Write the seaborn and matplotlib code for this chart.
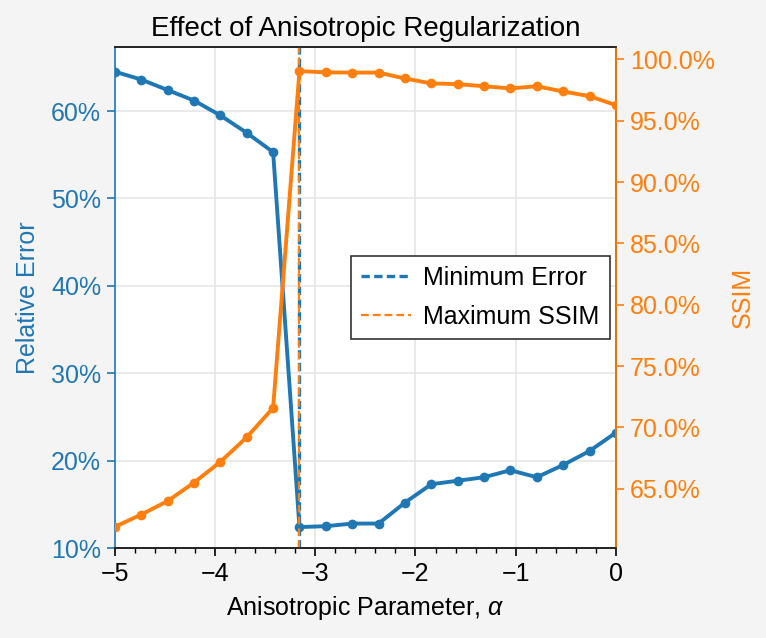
import numpy as np
import pandas as pd
import matplotlib
matplotlib.use('Agg')
import matplotlib.pyplot as plt
import seaborn as sns
from matplotlib.ticker import PercentFormatter, MultipleLocator

# anisotropic parameter grid
alpha = [-5.000, -4.737, -4.474, -4.211, -3.947, -3.684, -3.421, -3.158, -2.895, -2.632,
         -2.368, -2.105, -1.842, -1.579, -1.316, -1.053, -0.789, -0.526, -0.263, 0.000]
# relative error (%)
rel_error = [64.5, 63.6, 62.4, 61.2, 59.5, 57.5, 55.3, 12.4, 12.5, 12.8,
             12.8, 15.2, 17.3, 17.7, 18.1, 18.9, 18.1, 19.5, 21.1, 23.2]
# SSIM (%)
ssim = [61.9, 62.9, 64.0, 65.5, 67.2, 69.2, 71.6, 99.05, 98.95, 98.93,
        98.93, 98.45, 98.05, 97.99, 97.82, 97.64, 97.82, 97.39, 97.01, 96.28]

df = pd.DataFrame({'alpha': alpha, 'err': rel_error, 'ssim': ssim})
best_err = df.loc[df['err'].idxmin(), 'alpha']
best_ssim = df.loc[df['ssim'].idxmax(), 'alpha']

blue = '#1f77b4'
orange = '#ff7f0e'

sns.set_theme(style='ticks')
plt.rcParams['font.family'] = ['Liberation Sans', 'DejaVu Sans']
plt.rcParams.update({
    'font.size': 9,
    'axes.labelsize': 9,
    'axes.titlesize': 10,
    'xtick.labelsize': 9,
    'ytick.labelsize': 9,
    'legend.fontsize': 9,
    'text.color': 'black',
    'axes.labelcolor': 'black',
    'xtick.color': 'black',
    'ytick.color': 'black',
    'figure.facecolor': '#f4f4f4',
    'axes.facecolor': 'white',
    'axes.linewidth': 0.6,
    'mathtext.fontset': 'custom',
    'mathtext.rm': 'Liberation Sans',
    'mathtext.it': 'Liberation Sans:italic',
})

fig = plt.figure(figsize=(3.83, 3.19), dpi=200)
ax = fig.add_axes([0.150, 0.141, 0.654, 0.785])
ax2 = ax.twinx()

sns.lineplot(data=df, x='alpha', y='err', ax=ax, color=blue, marker='o',
             markersize=3.5, markeredgewidth=0, linewidth=1.4)
ax.axvline(best_err, color=blue, linestyle='--', linewidth=1.2, dashes=(2.5, 1.3),
           label='Minimum Error')

sns.lineplot(data=df, x='alpha', y='ssim', ax=ax2, color=orange, marker='o',
             markersize=3.5, markeredgewidth=0, linewidth=1.4)
ax2.axvline(best_ssim, color=orange, linestyle='--', linewidth=0.8, dashes=(3.5, 1.8),
            label='Maximum SSIM')

ax.set_xlim(-5, 0)
ax.set_ylim(10, 67.3)
ax2.set_ylim(60.17, 101.0)

ax.xaxis.set_major_locator(MultipleLocator(1))
ax.xaxis.set_minor_locator(MultipleLocator(0.2))
ax.yaxis.set_major_locator(MultipleLocator(10))
ax.yaxis.set_major_formatter(PercentFormatter(decimals=0))
ax2.yaxis.set_major_locator(MultipleLocator(5))
ax2.yaxis.set_major_formatter(PercentFormatter(decimals=1))

ax.grid(True, which='major', color='#e6e6e6', linewidth=0.6)
ax.set_axisbelow(True)

ax.tick_params(axis='x', which='major', length=3, width=0.6, direction='out', pad=2)
ax.tick_params(axis='x', which='minor', length=1.7, width=0.5, direction='out')
ax.tick_params(axis='y', length=3, width=0.6, colors=blue, pad=2)
ax2.tick_params(axis='y', length=3, width=0.6, colors=orange, pad=2)

ax.spines['left'].set_color(blue)
ax2.spines['left'].set_visible(False)
ax2.spines['right'].set_color(orange)
for s in ['top', 'bottom']:
    ax2.spines[s].set_color('#222222')
    ax.spines[s].set_color('#222222')

ax.set_xlabel(r'Anisotropic Parameter, $\alpha$', labelpad=3)
ax.set_ylabel('Relative Error', color=blue, labelpad=4)
ax2.set_ylabel('SSIM', color=orange, labelpad=6)
ax.set_title('Effect of Anisotropic Regularization', pad=4)

h1, l1 = ax.get_legend_handles_labels()
h2, l2 = ax2.get_legend_handles_labels()
leg = ax2.legend(h1 + h2, l1 + l2, loc='center right', fancybox=False,
                 framealpha=1, edgecolor='#333333', borderaxespad=0.25,
                 handletextpad=0.5, labelspacing=0.6)
leg.get_frame().set_linewidth(0.6)

fig.savefig('out.png', dpi=200, facecolor=fig.get_facecolor())
